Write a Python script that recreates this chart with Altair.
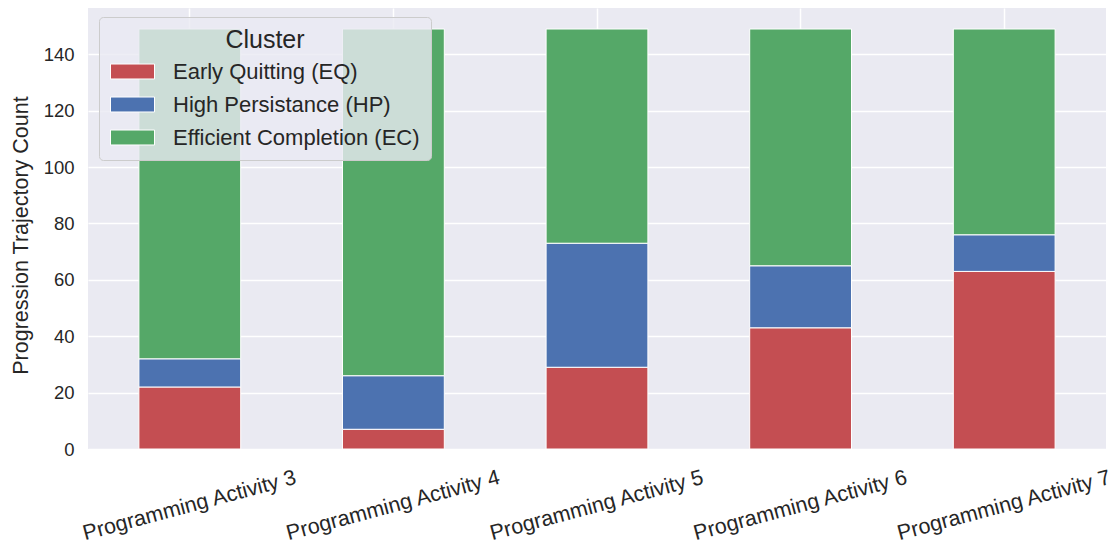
import altair as alt
import pandas as pd

activities = ["Programming Activity 3", "Programming Activity 4", "Programming Activity 5",
              "Programming Activity 6", "Programming Activity 7"]
clusters = ["Early Quitting (EQ)", "High Persistance (HP)", "Efficient Completion (EC)"]
eq_counts = [22, 7, 29, 43, 63]
hp_counts = [10, 19, 44, 22, 13]
ec_counts = [117, 123, 76, 84, 73]
colors = ["#c44e52", "#4c72b0", "#55a868"]
y_ticks = [0, 20, 40, 60, 80, 100, 120, 140]

rows = []
for series, vals in zip(clusters, [eq_counts, hp_counts, ec_counts]):
    for a, v in zip(activities, vals):
        rows.append({"Activity": a, "Cluster": series, "Count": v,
                     "order": clusters.index(series)})
df = pd.DataFrame(rows)

FONT = "Liberation Sans"
TXT = "#262626"

chart = alt.Chart(df).mark_bar(stroke="white", strokeWidth=1).encode(
    x=alt.X("Activity:N", sort=activities,
            scale=alt.Scale(paddingInner=0.5, paddingOuter=0.25),
            axis=alt.Axis(title=None, labelAngle=-15, labelAlign="center",
                          labelBaseline="top", labelPadding=46, labelFontSize=21.5,
                          labelOffset=-3,
                          labelColor=TXT, labelFont=FONT, domain=False, ticks=False,
                          grid=True, gridColor="white", gridWidth=1.5,
                          bandPosition=0.5, labelLimit=400)),
    y=alt.Y("Count:Q", stack="zero",
            scale=alt.Scale(domain=[0, 156.45], nice=False, zero=True),
            axis=alt.Axis(title="Progression Trajectory Count", values=y_ticks,
                          labelFontSize=18.5, labelColor=TXT, labelFont=FONT,
                          labelPadding=14, titleFontSize=21.5, titleColor=TXT,
                          titleFont=FONT, titleFontWeight="normal",
                          titleX=-67, titleY=227, titleAngle=270,
                          titleAlign="center", titleBaseline="middle",
                          domain=False, ticks=False, grid=True, gridColor="white",
                          gridWidth=1.5)),
    color=alt.Color("Cluster:N", sort=clusters,
                    scale=alt.Scale(domain=clusters, range=colors),
                    legend=alt.Legend(
                        title="Cluster", orient="none", legendX=11, legendY=9,
                        direction="vertical",
                        symbolType="M-2,-0.68L2,-0.68L2,0.68L-2,0.68Z",
                        symbolSize=484, symbolStrokeColor="white",
                        symbolStrokeWidth=1, symbolOpacity=1, symbolOffset=11,
                        labelFontSize=22, labelFont=FONT, labelColor=TXT,
                        labelOffset=29, labelLimit=400,
                        titleFontSize=25, titleFont=FONT, titleColor=TXT,
                        titleFontWeight="normal", titleAnchor="middle",
                        titleAlign="center", titlePadding=7,
                        rowPadding=10, padding=11,
                        fillColor="rgba(234,234,242,0.8)", strokeColor="#cccccc",
                        cornerRadius=4)),
    order=alt.Order("order:Q", sort="ascending"),
).properties(
    width=1018, height=441,
    background="white",
    autosize=alt.AutoSizeParams(type="none"),
    padding={"left": 80, "top": 0, "right": 6, "bottom": 100},
).configure_view(
    fill="#eaeaf2", strokeWidth=0
)

chart.save("out.html", embed_options={"renderer": "svg", "actions": False})
